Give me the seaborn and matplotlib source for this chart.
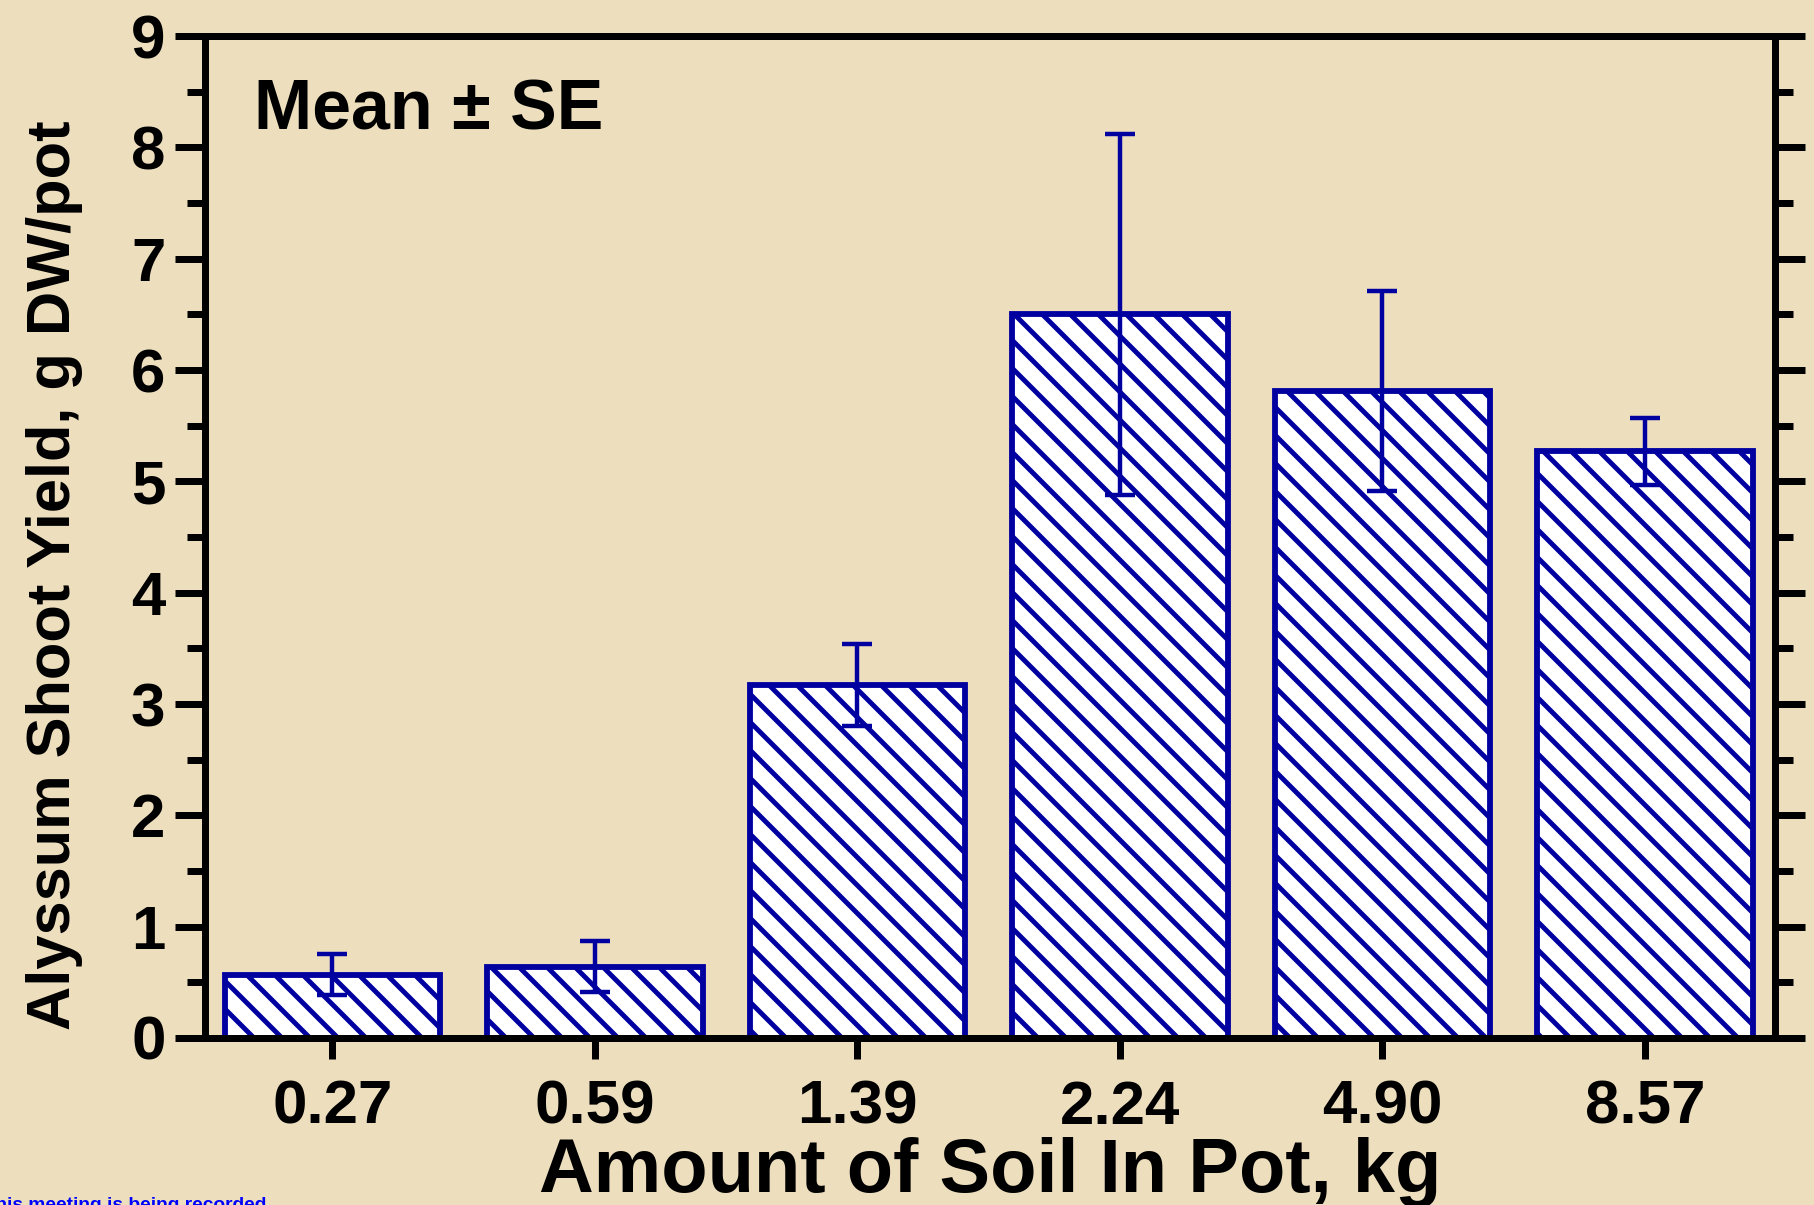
import numpy as np
import pandas as pd
import matplotlib
matplotlib.use("Agg")
import matplotlib.pyplot as plt
import seaborn as sns
from matplotlib.ticker import MultipleLocator

# Datos
soil_kg = ["0.27", "0.59", "1.39", "2.24", "4.90", "8.57"]
yield_mean = [0.57, 0.64, 3.17, 6.50, 5.81, 5.27]
yield_se = [0.18, 0.23, 0.37, 1.62, 0.90, 0.30]

BG = "#EDDFBE"
BLUE = "#0000A0"
DPI = 168  # hatch spacing depends on dpi

sns.set_style("ticks")
plt.rcParams["font.family"] = ["Liberation Sans", "DejaVu Sans"]
plt.rcParams["hatch.linewidth"] = 2.1
for k in ["text.color", "axes.labelcolor", "xtick.color", "ytick.color",
          "xtick.labelcolor", "ytick.labelcolor"]:
    plt.rcParams[k] = "black"

df = pd.DataFrame({"soil": soil_kg, "yield": yield_mean})

fig = plt.figure(figsize=(1814 / DPI, 1205 / DPI), dpi=DPI, facecolor=BG)
ax = fig.add_axes([0.1130, 0.1386, 0.8655, 0.8315])
ax.set_facecolor(BG)

sns.barplot(data=df, x="soil", y="yield", ax=ax, color="white", saturation=1,
            width=0.82, edgecolor=BLUE, linewidth=2.5, hatch="\\\\",
            errorbar=None)

ax.errorbar(np.arange(len(soil_kg)), yield_mean, yerr=yield_se, fmt="none",
            ecolor=BLUE, elinewidth=1.9, capsize=6.5, capthick=1.9, zorder=5)

ax.set_ylim(0, 9)
ax.set_xlim(-0.485, 5.495)
ax.yaxis.set_major_locator(MultipleLocator(1))
ax.yaxis.set_minor_locator(MultipleLocator(0.5))

for sp in ax.spines.values():
    sp.set_linewidth(3.0)
    sp.set_color("black")

ax.tick_params(axis="y", which="major", direction="out", length=12.9, width=3.0,
               left=True, right=True, labelsize=26.5, pad=4)
ax.tick_params(axis="y", which="minor", direction="out", length=7.7, width=3.0,
               left=True, right=True)
ax.tick_params(axis="x", which="major", direction="out", length=9, width=3.0,
               bottom=True, top=False, labelsize=26.5, pad=9)
for lab in ax.get_xticklabels() + ax.get_yticklabels():
    lab.set_fontweight("bold")

ax.set_xlabel("Amount of Soil In Pot, kg", fontsize=32.5, fontweight="bold", labelpad=0)
ax.set_ylabel("Alyssum Shoot Yield, g DW/pot", fontsize=26.3, fontweight="bold")
ax.yaxis.set_label_coords(-0.078, 0.462)

ax.text(0.031, 0.925, "Mean ± SE", transform=ax.transAxes, fontsize=30,
        fontweight="bold", ha="left", va="center")

fig.text(-0.006, 0.0066, "this meeting is being recorded", color="#0000FF",
         fontsize=8.2, fontweight="bold", ha="left", va="top")

fig.savefig("out.png", dpi=DPI, facecolor=BG)
